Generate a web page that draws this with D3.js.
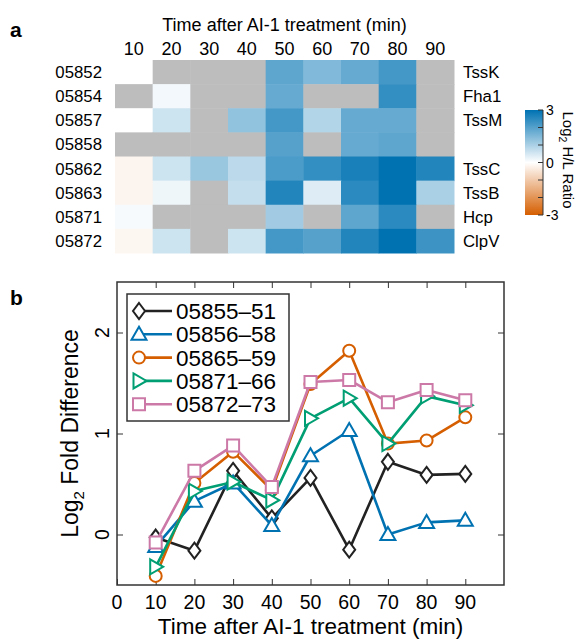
<!DOCTYPE html>
<html>
<head>
<meta charset="utf-8">
<script src="https://cdn.jsdelivr.net/npm/d3@7"></script>
<style>
  body { margin: 0; background: #fff; }
  svg { font-family: "Liberation Sans", Arial, Helvetica, sans-serif; }
</style>
</head>
<body>
<script>
// ---------- data: panel a (heatmap) ----------
const times = [10, 20, 30, 40, 50, 60, 70, 80, 90];
const genes = ["05852", "05854", "05857", "05858", "05862", "05863", "05871", "05872"];
const proteins = ["TssK", "Fha1", "TssM", "", "TssC", "TssB", "Hcp", "ClpV"];
// log2 H/L ratio, null = not detected (grey)
const ratio05852 = [0.0, null, null, null, 1.9, 1.5, 1.8, 2.2, null];
const ratio05854 = [null, 0.15, null, null, 1.8, null, null, 2.4, null];
const ratio05857 = [0.0, 0.6, null, 1.3, 2.2, 0.9, 1.8, 1.8, null];
const ratio05858 = [null, null, null, null, 2.0, null, 1.8, 1.9, null];
const ratio05862 = [-0.2, 0.6, 1.2, 0.8, 2.1, 2.4, 2.7, 3.0, 2.6];
const ratio05863 = [-0.2, 0.2, null, 0.7, 2.6, 0.4, 2.5, 3.0, 1.0];
const ratio05871 = [0.1, null, null, null, 1.1, null, 1.9, 2.5, null];
const ratio05872 = [-0.15, 0.6, null, 0.6, 2.2, 2.0, 2.6, 3.0, 2.3];
const heatRows = [ratio05852, ratio05854, ratio05857, ratio05858, ratio05862, ratio05863, ratio05871, ratio05872];
const colorbarTicks = [-3, -2, -1, 0, 1, 2, 3];
const colorbarLabels = [-3, 0, 3];

// ---------- data: panel b (lines) ----------
const seriesNames = ["05855\u201351", "05856\u201358", "05865\u201359", "05871\u201366", "05872\u201373"];
const fold0555 = [-0.03, -0.16, 0.63, 0.16, 0.56, -0.15, 0.72, 0.59, 0.60];
const fold0556 = [-0.12, 0.33, 0.51, 0.09, 0.78, 1.03, 0.0, 0.12, 0.14];
const fold0565 = [-0.41, 0.51, 0.82, 0.44, 1.49, 1.82, 0.90, 0.93, 1.16];
const fold0571 = [-0.32, 0.43, 0.52, 0.34, 1.15, 1.35, 0.90, 1.37, 1.28];
const fold0572 = [-0.08, 0.63, 0.88, 0.47, 1.51, 1.53, 1.31, 1.43, 1.33];
const seriesValues = [fold0555, fold0556, fold0565, fold0571, fold0572];
const xTicks = [0, 10, 20, 30, 40, 50, 60, 70, 80, 90];
const yTicks = [0, 1, 2];

const W = 579, H = 639;

const svg = d3.select("body").append("svg")
  .attr("width", W).attr("height", H);

// panel letters
svg.append("text").attr("x", 10).attr("y", 37).attr("font-size", 21)
  .attr("font-weight", "bold").text("a");
svg.append("text").attr("x", 10).attr("y", 305).attr("font-size", 21)
  .attr("font-weight", "bold").text("b");

// ============================================
// PANEL A - heatmap
// ============================================
const hx = d3.scaleBand().domain(times).range([115, 454]);
const hy = d3.scaleBand().domain(genes).range([60, 253]);
const heatColor = d3.scaleLinear().domain([-3, 0, 3])
  .range(["#d55e00", "#ffffff", "#0072b2"]);

const cells = [];
heatRows.forEach((row, i) => row.forEach((v, j) => {
  cells.push({ gene: genes[i], time: times[j], value: v });
}));

const heat = svg.append("g");
heat.selectAll("rect.cell")
  .data(cells)
  .enter()
  .append("rect")
  .attr("class", "cell")
  .attr("x", d => hx(d.time))
  .attr("y", d => hy(d.gene))
  .attr("width", hx.bandwidth() + 0.5)
  .attr("height", hy.bandwidth() + 0.5)
  .attr("fill", d => d.value == null ? "#bdbdbd" : heatColor(d.value));

// heat title and column labels
heat.append("text")
  .attr("x", (hx.range()[0] + hx.range()[1]) / 2).attr("y", 31)
  .attr("text-anchor", "middle").attr("font-size", 18)
  .text("Time after AI-1 treatment (min)");
heat.selectAll("text.col")
  .data(times)
  .enter()
  .append("text")
  .attr("class", "col")
  .attr("x", d => hx(d) + hx.bandwidth() / 2)
  .attr("y", 55)
  .attr("text-anchor", "middle").attr("font-size", 18)
  .text(d => d);

// row labels left and right
heat.selectAll("text.gene")
  .data(genes)
  .enter()
  .append("text")
  .attr("class", "gene")
  .attr("x", 102)
  .attr("y", d => hy(d) + hy.bandwidth() / 2 + 6)
  .attr("text-anchor", "end").attr("font-size", 16.8)
  .text(d => d);
heat.selectAll("text.prot")
  .data(proteins)
  .enter()
  .append("text")
  .attr("class", "prot")
  .attr("x", 463)
  .attr("y", (d, i) => hy(genes[i]) + hy.bandwidth() / 2 + 6)
  .attr("font-size", 16.8)
  .text(d => d);

// colorbar
const cb = { x: 525, w: 18, top: 110, bottom: 215 };
const cbScale = d3.scaleLinear().domain([-3, 3]).range([cb.bottom, cb.top]);
const grad = svg.append("defs").append("linearGradient")
  .attr("id", "cbgrad").attr("x1", 0).attr("y1", 1).attr("x2", 0).attr("y2", 0);
colorbarTicks.forEach(t => {
  grad.append("stop")
    .attr("offset", (t + 3) / 6)
    .attr("stop-color", heatColor(t));
});
svg.append("rect")
  .attr("x", cb.x).attr("y", cb.top)
  .attr("width", cb.w).attr("height", cb.bottom - cb.top)
  .attr("fill", "url(#cbgrad)");
svg.selectAll("line.cbtick")
  .data(colorbarTicks)
  .enter()
  .append("line")
  .attr("class", "cbtick")
  .attr("x1", cb.x + cb.w - 5).attr("x2", cb.x + cb.w)
  .attr("y1", d => cbScale(d)).attr("y2", d => cbScale(d))
  .attr("stroke", "#333").attr("stroke-width", 1);
svg.append("line")
  .attr("x1", cb.x + cb.w).attr("x2", cb.x + cb.w)
  .attr("y1", cb.top).attr("y2", cb.bottom)
  .attr("stroke", "#333").attr("stroke-width", 1);
svg.selectAll("text.cblab")
  .data(colorbarLabels)
  .enter()
  .append("text")
  .attr("class", "cblab")
  .attr("x", cb.x + cb.w + 3)
  .attr("y", d => cbScale(d) + 5)
  .attr("font-size", 14)
  .text(d => d);
const cbTitle = svg.append("text")
  .attr("transform", `translate(563,160) rotate(90)`)
  .attr("text-anchor", "middle").attr("font-size", 15);
cbTitle.append("tspan").text("Log");
cbTitle.append("tspan").attr("font-size", 10.5).attr("dy", 4).text("2");
cbTitle.append("tspan").attr("dy", -4).text(" H/L Ratio");

// ============================================
// PANEL B - line chart
// ============================================
const plot = { left: 117, right: 504, top: 282, bottom: 585 };
const x = d3.scaleLinear().domain([0, 100]).range([plot.left, plot.right]);
const y = d3.scaleLinear().domain([-0.5, 2.5]).range([plot.bottom, plot.top]);

const colors = ["#222222", "#0072b2", "#d55e00", "#009e73", "#cc79a7"];
const markerPaths = [
  "M0,-8L6,0L0,8L-6,0Z",            // diamond
  "M0,-7.5L7.5,5.5L-7.5,5.5Z",      // triangle up
  d3.symbol(d3.symbolCircle, 113)(), // circle
  "M-5.5,-7.5L7.5,0L-5.5,7.5Z",     // triangle right
  "M-6,-6H6V6H-6Z"                  // square
];

const axisColor = "#333";
const tickLen = 6;

// frame box
svg.append("rect")
  .attr("x", plot.left).attr("y", plot.top)
  .attr("width", plot.right - plot.left).attr("height", plot.bottom - plot.top)
  .attr("fill", "none").attr("stroke", axisColor).attr("stroke-width", 1.5);

// axes with inward ticks
const xAxis = svg.append("g")
  .attr("transform", `translate(0,${plot.bottom})`)
  .call(d3.axisTop(x).tickValues(xTicks).tickSize(tickLen).tickFormat(""));
xAxis.select(".domain").remove();
svg.selectAll(".xlab")
  .data(xTicks)
  .enter()
  .append("text")
  .attr("class", "xlab")
  .attr("x", d => x(d))
  .attr("y", plot.bottom + 24)
  .attr("text-anchor", "middle").attr("font-size", 19.5)
  .text(d => d);
const xTop = svg.append("g")
  .attr("transform", `translate(0,${plot.top})`)
  .call(d3.axisBottom(x).tickValues(xTicks.slice(1)).tickSize(tickLen).tickFormat(""));
xTop.select(".domain").remove();

const yAxis = svg.append("g")
  .attr("transform", `translate(${plot.left},0)`)
  .call(d3.axisRight(y).tickValues(yTicks).tickSize(tickLen).tickFormat(""));
yAxis.select(".domain").remove();
const yRight = svg.append("g")
  .attr("transform", `translate(${plot.right},0)`)
  .call(d3.axisLeft(y).tickValues(yTicks).tickSize(tickLen).tickFormat(""));
yRight.select(".domain").remove();
svg.selectAll(".tick line").attr("stroke", axisColor).attr("stroke-width", 1);

svg.selectAll(".ylab")
  .data(yTicks)
  .enter()
  .append("text")
  .attr("class", "ylab")
  .attr("transform", d => `translate(109,${y(d)}) rotate(-90)`)
  .attr("text-anchor", "middle").attr("font-size", 19.5)
  .text(d => d);

// axis titles
svg.append("text")
  .attr("x", (plot.left + plot.right) / 2).attr("y", 634)
  .attr("text-anchor", "middle").attr("font-size", 22.5)
  .text("Time after AI-1 treatment (min)");
const yTitle = svg.append("text")
  .attr("transform", `translate(78,${(plot.top + plot.bottom) / 2}) rotate(-90)`)
  .attr("text-anchor", "middle").attr("font-size", 23);
yTitle.append("tspan").text("Log");
yTitle.append("tspan").attr("font-size", 15).attr("dy", 6).text("2");
yTitle.append("tspan").attr("dy", -6).text(" Fold Difference");

// series
const line = d3.line().x(d => x(d.t)).y(d => y(d.v));
seriesValues.forEach((vals, i) => {
  const pts = vals.map((v, j) => ({ t: times[j], v: v }));
  const g = svg.append("g");
  g.append("path")
    .datum(pts)
    .attr("d", line)
    .attr("fill", "none")
    .attr("stroke", colors[i])
    .attr("stroke-width", 2.6)
    .attr("stroke-linejoin", "round");
  g.selectAll("path.mk")
    .data(pts)
    .enter()
    .append("path")
    .attr("class", "mk")
    .attr("d", markerPaths[i])
    .attr("transform", d => `translate(${x(d.t)},${y(d.v)})`)
    .attr("fill", "#fff")
    .attr("stroke", colors[i])
    .attr("stroke-width", 2);
});

// legend
const legend = svg.append("g");
legend.append("rect")
  .attr("x", 127).attr("y", 294).attr("width", 162).attr("height", 127)
  .attr("fill", "#fff").attr("stroke", axisColor).attr("stroke-width", 1.5);
seriesNames.forEach((name, i) => {
  const ly = 311 + i * 23.3;
  legend.append("line")
    .attr("x1", 139).attr("x2", 172).attr("y1", ly).attr("y2", ly)
    .attr("stroke", colors[i]).attr("stroke-width", 2.6);
  legend.append("path")
    .attr("d", markerPaths[i])
    .attr("transform", `translate(139,${ly})`)
    .attr("fill", "#fff").attr("stroke", colors[i]).attr("stroke-width", 2);
  legend.append("text")
    .attr("x", 176).attr("y", ly + 8)
    .attr("font-size", 22.5)
    .text(name);
});
</script>
</body>
</html>
